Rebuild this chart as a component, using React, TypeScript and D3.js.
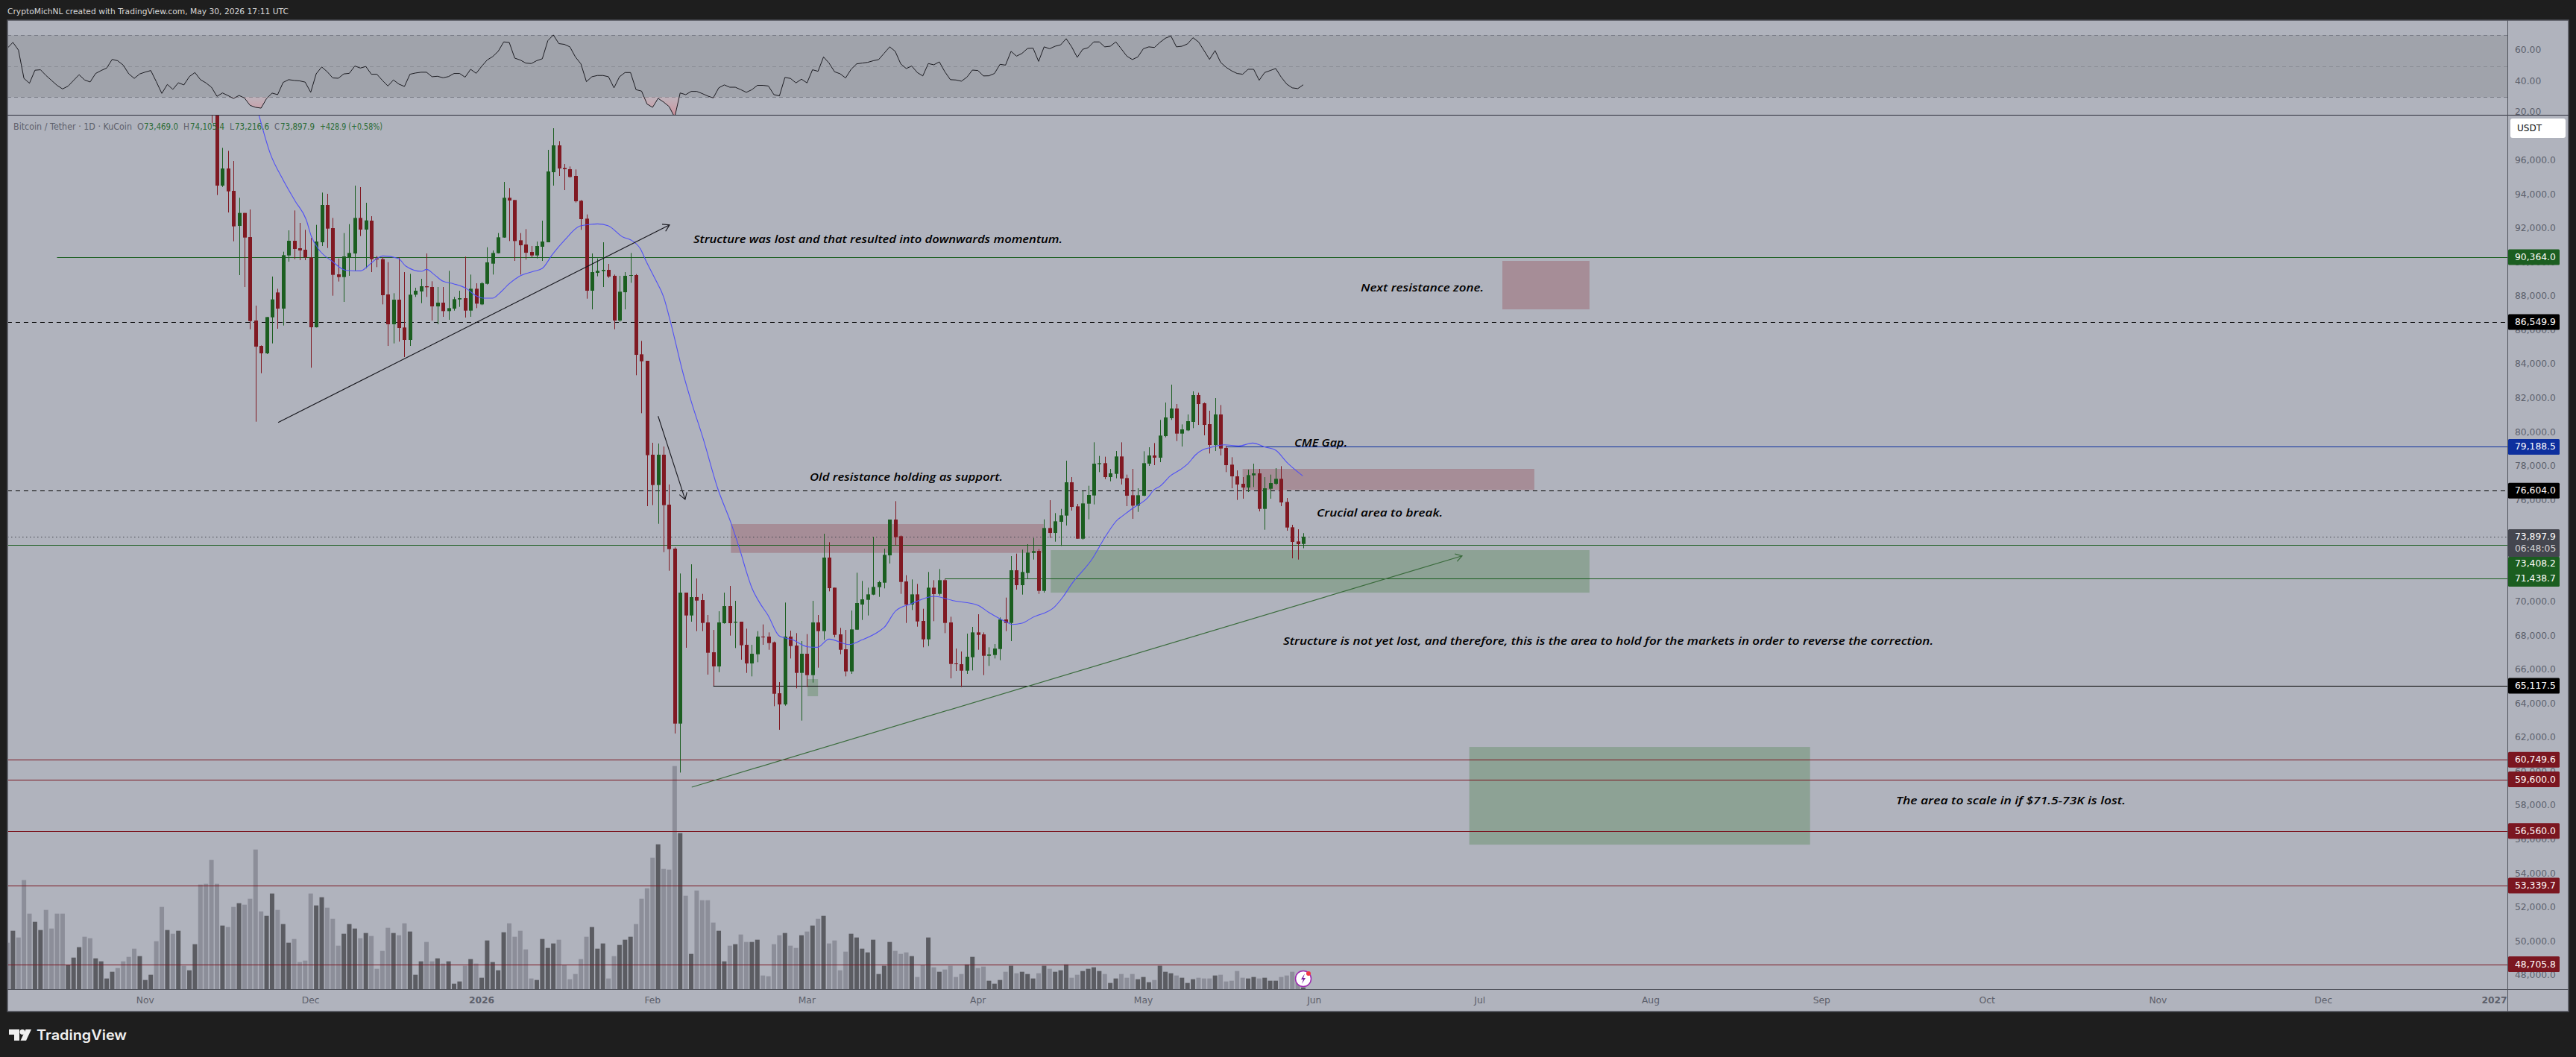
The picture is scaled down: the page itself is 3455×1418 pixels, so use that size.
import React from "react";
import * as d3 from "d3";

// ---- Data ----
const FIRST_VOLUME_DAY = -86; // days relative to 2026-01-01
const FIRST_CANDLE_DAY = -49;

const opens = [
  103000, 99700, 94580, 95591, 94273, 92209, 92971, 91550, 86631, 85138,
  84699, 86822, 88286, 87334, 90467, 91331, 90892, 90804, 90350, 86236,
  91243, 93439, 92077, 89354, 89193, 90365, 90584, 92678, 91990, 92517,
  90291, 90247, 88169, 86412, 87861, 86222, 85490, 88154, 88344, 88652,
  88608, 87466, 87685, 87188, 87334, 87876, 87949, 87217, 88505,
  87583, 88798, 89984, 90599, 91521, 93864, 93732, 91360, 91111, 90672,
  90467, 90980, 91243, 95371, 96953, 95620, 95547, 95152, 93688, 92634,
  88388, 89442, 89545, 89618, 89267, 86631, 88300, 89267, 89311, 84641, 84260,
  78727, 76941, 78727, 75784, 73193, 62886, 70602, 69255, 70338,
  70162, 68845, 67088, 66254, 68801, 69811, 68830, 68889, 67527, 66429,
  66971, 68010, 68010, 67674, 64672, 64014, 68010, 67483, 65873, 67000,
  65741, 68845, 68333, 72666, 70894, 68142, 67264, 65961, 68420, 69899,
  70177, 70484, 70924, 71187, 72798, 74906, 73925, 71260, 69899, 70499,
  68933, 67849, 70894, 70528, 71334, 68845, 66429, 66385, 66005, 66795,
  68259, 68142, 66883, 66927, 67278, 69020, 68816, 71919, 71041, 71758,
  72944, 73061, 70704, 74408, 74115, 74774, 75140, 77102, 75682, 73778,
  75843, 76326, 78170, 78229, 77409, 77600, 78624, 77350, 76340, 75725,
  76311, 78199, 78682, 78551, 79824, 80878, 81449, 79971, 80161, 80659,
  82240, 81757, 80527, 79297, 81098, 79122, 78141, 77453, 77014, 76794,
  77511, 77628, 75535, 76721, 77014, 77306, 75945, 74452, 73617, 73469,
];
const closes = [
  99700, 94581, 95591, 94244, 92180, 92971, 91521, 86602, 85094, 84699,
  86836, 87876, 87334, 90482, 91331, 90848, 90760, 90350, 86236, 91287,
  93439, 92048, 89325, 89193, 90408, 90613, 92678, 91990, 92531, 90247,
  90233, 88125, 86412, 87861, 86192, 85490, 88154, 88388, 88652, 88593,
  87466, 87685, 87188, 87363, 87890, 87949, 87217, 88505, 87627,
  88827, 90059, 90613, 91536, 93864, 93703, 91316, 91067, 90628, 90467,
  91023, 91287, 95415, 96953, 95591, 95547, 95093, 93659, 92605, 88388,
  89486, 89560, 89618, 89223, 86631, 88330, 89267, 89311, 84611, 84231, 78700,
  76941, 78727, 75755, 73164, 62886, 70602, 69255, 70338, 70133,
  68816, 67059, 66254, 68845, 69811, 68801, 68889, 67498, 66429, 67000,
  68010, 67966, 67630, 64643, 64014, 68010, 67454, 65873, 67000, 65741,
  68845, 68333, 72666, 70865, 68113, 67234, 65961, 68435, 69987, 70206,
  70499, 70938, 71217, 72827, 74906, 73866, 71231, 69899, 70499, 68903,
  67849, 70894, 70514, 71334, 68816, 66400, 66400, 66005, 66825, 68259,
  68113, 66883, 66956, 67308, 69020, 68816, 71919, 71041, 71817, 72959,
  73046, 70704, 74408, 74115, 74803, 75155, 77102, 75652, 73778, 75857,
  76355, 78200, 78229, 77409, 77629, 78624, 77321, 76311, 75725, 76340,
  78229, 78682, 78551, 79854, 80922, 81449, 79971, 80220, 80703, 82240,
  81713, 80483, 79297, 81098, 79092, 78112, 77453, 76970, 76794, 77526,
  77628, 75535, 76750, 77057, 77306, 75915, 74437, 73588, 73456, 73897.9,
];
const highs = [
  104500, 100500, 96806, 96630, 96030, 93864, 92970, 93175, 87510, 85167,
  86836, 89223, 88505, 90687, 91946, 93117, 92385, 91975, 91492, 92268,
  94171, 94098, 92678, 90291, 91785, 92312, 94581, 94493, 93571, 92780,
  90438, 90365, 90072, 88242, 90365, 89486, 89384, 88564, 89091, 90584,
  88945, 88608, 88608, 89560, 88022, 88388, 90394, 89340, 88827,
  88900, 90950, 90760, 91785, 94800, 94435, 93732, 91785, 92019, 91023,
  91287, 92517, 96689, 97963, 97201, 95855, 95708, 95533, 93732, 92883,
  90584, 90291, 91243, 89969, 89340, 89267, 89486, 90613, 89369, 85431, 84260,
  79430, 79386, 79210, 76970, 73266, 71729, 70602, 72271, 71436,
  70528, 69284, 68405, 69504, 70602, 70997, 70118, 68889, 68479, 67527,
  68333, 68728, 68259, 67718, 65331, 70016, 68362, 68215, 67747, 68157,
  70118, 69284, 74071, 73573, 70894, 68523, 68405, 69548, 71773, 71290,
  70894, 73896, 71290, 73193, 74906, 75989, 73969, 71626, 71378, 71114,
  69650, 71817, 71334, 71992, 71407, 69182, 67308, 67132, 68186, 68581,
  69328, 68259, 67381, 67571, 69137, 70309, 72754, 72900, 73134, 73456,
  73822, 73164, 74920, 76048, 75286, 75535, 78375, 77409, 75828, 76589,
  76897, 79459, 78654, 78610, 77892, 78946, 79458, 77555, 77892, 76750,
  78931, 79166, 79414, 80776, 81801, 82855, 81713, 80512, 81098, 82460,
  82386, 81801, 81318, 82064, 81654, 79239, 78580, 77804, 77409, 77848,
  78199, 77892, 77409, 77555, 77936, 78053, 76179, 74598, 74334, 74105.4,
];
const lows = [
  98270, 94025, 94500, 92999, 91301, 89311, 88608, 86119, 80673, 83528,
  84655, 85285, 86149, 86339, 90101, 90247, 90189, 90189, 83850, 86222,
  91023, 90906, 88095, 88930, 87729, 89267, 89560, 91609, 89706, 89486,
  89779, 87583, 85138, 85285, 85387, 84480, 85138, 88022, 87656, 88022,
  86631, 86412, 86851, 86675, 87217, 87437, 86807, 86851, 87363,
  87539, 88754, 89340, 90584, 91507, 91316, 90145, 89340, 90218, 90365,
  90291, 90145, 91243, 94581, 95152, 94317, 95049, 93585, 91975, 87920,
  87290, 89237, 88608, 89150, 86119, 86558, 87290, 88857, 83411, 81171, 75696,
  75755, 74657, 72988, 71890, 62300, 60000, 67352, 68889, 68333,
  68333, 65770, 65112, 65917, 68772, 68069, 67337, 66649, 65873, 65668,
  66502, 67527, 67234, 63911, 62520, 63940, 66722, 64965, 63062, 65038,
  65302, 66180, 67820, 70675, 67966, 66971, 65668, 65815, 68405, 68991,
  69255, 70455, 70353, 70851, 72315, 73383, 70528, 68816, 69577, 68596,
  67381, 67454, 68918, 70426, 68215, 65551, 65990, 65038, 65815, 66019,
  67234, 65741, 66283, 66722, 66620, 68333, 67747, 70777, 70485, 71407,
  72549, 70528, 70602, 73822, 73603, 73354, 74554, 75433, 73778, 73720,
  74920, 75799, 77702, 77292, 77160, 77336, 76970, 75696, 74949, 75359,
  76281, 78068, 78112, 78287, 79751, 80776, 79532, 79210, 80117, 80293,
  80483, 79868, 78800, 78946, 78682, 77702, 76750, 76062, 76135, 76530,
  76823, 75388, 74305, 76135, 76940, 75696, 74247, 72622, 72548, 73216.6,
];

const volumes = [
  187, 235, 208, 439, 304, 271, 238, 319, 244, 304,
  304, 99, 127, 169, 211, 205, 124, 112, 43, 70,
  85, 112, 130, 163, 133, 37, 58, 193, 331, 238,
  223, 235, 94, 76, 181, 421, 424, 520, 424, 256,
  250, 331, 346, 340, 364, 562, 313, 295, 385, 319,
  262, 187, 202, 109, 115, 385, 337, 370, 328, 283,
  175, 223, 262, 244, 205, 226, 214, 82, 154, 247,
  226, 217, 265, 232, 58, 112, 190, 112, 124, 103,
  112, 22, 31, 94, 121, 103,
  46, 196, 109, 76, 229, 265, 211, 235, 160, 43,
  37, 202, 166, 184, 199, 97, 40, 61, 121, 211,
  250, 163, 184, 43, 133, 178, 199, 211, 262, 364,
  406, 529, 583, 484, 481, 898, 628, 376, 142, 397,
  358, 358, 268, 235, 112, 175, 181, 220, 190, 190,
  199, 55, 52, 181, 217, 226, 175, 166, 217, 232,
  256, 283, 295, 184, 196, 76, 151, 223, 208, 163,
  148, 199, 61, 94, 190, 154, 142, 148, 133, 49,
  97, 208, 88, 70, 79, 94, 49, 61, 100, 130,
  85, 91, 34, 22, 37, 70, 94, 64, 70, 61,
  43, 64, 94, 82, 70, 76, 100, 46, 58, 73,
  82, 88, 73, 61, 25, 43, 61, 46, 61, 40,
  49, 28, 37, 94, 70, 64, 55, 46, 25, 40,
  46, 43, 43, 55, 58, 31, 34, 73, 46, 43,
  49, 43, 46, 34, 34, 49, 55, 70, 39, 7,
];
const earlyVolumeTone = "LDLLLDDLLLLDDDLLDDDDLLLLDDDLLDLDLDDLL";

const rsi = [
  61.7, 65.4, 60.4, 42.1, 39.0, 47.4, 47.7, 44.0, 40.8, 37.6,
  35.3, 37.1, 40.8, 44.5, 41.1, 39.8, 45.3, 47.2, 48.8, 54.4,
  53.5, 50.7, 45.1, 42.1, 45.0, 46.2, 47.2, 40.0, 32.4, 38.2,
  35.0, 39.3, 37.9, 43.3, 45.9, 41.3, 39.2, 36.4, 30.5, 32.7,
  31.0, 29.1, 31.1, 29.4, 24.7, 23.4, 22.9, 29.1, 32.6, 31.6,
  39.5, 41.3, 40.8, 40.5, 39.7, 33.1, 45.1, 49.5, 46.4, 42.4,
  42.2, 45.0, 45.4, 50.1, 48.8, 49.8, 44.8, 44.8,
  40.8, 37.2, 41.1, 38.4, 36.9, 44.8, 45.6, 46.1, 46.1, 43.2,
  43.5, 42.5, 43.3, 45.3, 45.3, 42.9, 48.0, 45.4,
  49.9, 54.0, 56.2, 59.6, 65.7, 65.4, 55.2, 54.0, 52.0, 51.7,
  53.6, 54.8, 66.5, 70.2, 64.6, 64.1, 62.5, 56.0, 51.5, 40.0,
  43.2, 44.0, 44.0, 43.2, 36.0, 43.2, 45.9, 45.9, 34.8, 33.9,
  25.5, 23.4, 29.2, 26.8, 23.9, 17.0, 32.7, 31.6, 33.7, 33.7,
  32.3, 30.7, 29.5, 36.0, 37.9, 36.4, 36.4, 34.8, 33.1, 34.8,
  37.6, 37.6, 37.2, 31.6, 30.8, 42.7, 42.1, 39.2, 41.6, 39.2,
  47.7, 46.7, 56.0, 52.0, 46.4, 45.1, 42.4, 48.0, 51.5, 52.0,
  52.5, 53.5, 54.3, 58.4, 62.5, 59.6, 51.5, 48.5, 50.1, 45.9,
  43.7, 51.7, 50.9, 52.8, 46.4, 41.3, 41.1, 40.3, 42.9, 47.5,
  47.2, 43.7, 43.8, 45.3, 51.2, 50.7, 59.6, 56.5, 58.3, 61.5,
  61.7, 53.1, 62.5, 61.3, 62.9, 63.8, 67.8, 62.5, 55.7, 60.9,
  62.0, 65.7, 65.7, 62.5, 62.9, 65.7, 61.2, 56.5, 54.3, 56.0,
  61.3, 62.5, 62.1, 65.4, 68.1, 69.5, 62.5, 62.9, 64.4, 68.4,
  65.7, 60.1, 54.4, 60.1, 52.5, 49.3, 47.0, 45.3, 44.8, 48.0,
  48.0, 40.9, 45.9, 47.2, 48.5, 42.9, 38.4, 36.0, 35.5, 38.0,
];

const maDays = [
  -40.4, -38.3, -36.1, -33.8, -31.8, -30.9, -29.5, -27.2, -24.6, -21.9, -20.6, -19, -17.9, -15.1, -13.8,
  -10.9, -10, -8.6, -7, -5.1, -2.7, -1.2, 0.4, 2, 3.1, 5, 7, 9.3, 11, 12.8, 15.1, 17.8, 19.7, 21, 22.9,
  25.7, 27, 28.8, 29.8, 31.4, 33, 34.3, 36.5, 38, 40.1, 42.8, 45.3, 47, 48, 48.9, 50.4, 51.9, 54, 56.4,
  59.1, 60.9, 63, 66.6, 69, 72.1, 73, 75.1, 77.9, 82, 85.7, 89.9, 92, 95.6, 96.2, 98, 99.9, 103.9, 105.5,
  107, 110.7, 113.1, 115.4, 116, 118.1, 120.7, 122, 123, 124.9, 126.7, 128, 129.5, 130.8, 132, 134.7,
  137.3, 139.8, 142.2, 144, 146, 148.9,
];
const maValues = [
  98753, 96440, 94976, 93659, 92561, 91609, 90804, 90145, 89589, 89560, 89852, 90291, 90438, 90291, 89852,
  89530, 89647, 89340, 88945, 88798, 88505, 88125, 87949, 87949, 88198, 88798, 89267, 89516, 89706, 90511, 91389, 92195, 92297, 92326, 92224,
  91536, 91389, 90848, 90145, 89120, 88022, 86485, 83558, 81874, 79752, 76750, 74628, 72944, 71846, 70968, 70016, 69284, 68040, 67820,
  67410, 67381, 67864, 67542, 67820, 68333, 68552, 69533, 69943, 70382, 70118, 69870, 69430, 68801, 68728, 68801, 69137, 69767, 70382,
  71114, 72578, 73896, 74920, 75066, 75579, 76164, 76677, 76867, 77482, 77848, 78170, 78727, 79019, 79136, 79312,
  79239, 79414, 79166, 78990, 78287, 77482,
];

const priceTicks = d3.range(48000, 98000, 2000);
const rsiTicks = [60, 40, 20];
const rsiLevels = [70, 50, 30];
const monthLabels = ["Nov", "Dec", "2026", "Feb", "Mar", "Apr", "May", "Jun", "Jul", "Aug", "Sep", "Oct", "Nov", "Dec", "2027"];
const monthDays = [-61, -31, 0, 31, 59, 90, 120, 151, 181, 212, 243, 273, 304, 334, 365];

const zoneNames = ["next", "old", "cme", "greenBig", "greenSmall", "greenLow"];
const zoneFrom = [185.1, 45.2, 138, 103.2, 59.1, 179.1];
const zoneTo = [200.9, 101.9, 190.9, 200.9, 61, 240.9];
const zoneHigh = [90146, 74643, 77892, 73104, 65507, 61508];
const zoneLow = [87292, 72942, 76649, 70601, 64497, 55754];

const levelPrices = [90364, 86549.9, 79188.5, 76604, 73408.2, 71438.7, 65117.5, 60749.6, 59600, 56560, 53339.7, 48705.8];
const levelStart = [-77.0, -86, 135.0, -86, -86, 84, 42, -86, -86, -86, -86, -86];
const levelKind = ["green", "dash", "blue", "dash", "green", "green", "black", "red", "red", "red", "red", "red"];

const COLORS: Record<string, string> = { green: "#1b5e20", dash: "#000000", blue: "#0d2f9e", black: "#000000", red: "#7b1620" };

// ---- Layout ----
const W = 3455, H = 1418;
const L = 10, R = 3445, T = 27, B = 1357, AX = 3363, RSIB = 154, TIMEY = 1327;
const BG = "#b0b3bd", DARK = "#1e1e1e";
const AXISFONT = "'DejaVu Sans', sans-serif";

const x = d3.scaleLinear().domain([0, 365]).range([646, 646 + 365 * 7.396]);
const y = d3.scaleLinear().domain([96000, 48000]).range([216.7, 216.7 + 48000 * 0.02277]);
const yRsi = d3.scaleLinear().domain([70, 30]).range([47.3, 130.3]);
const yVol = d3.scaleLinear().domain([0, 1000]).range([TIMEY, TIMEY - 1000 / 3]);

const rsiPoints = rsi.map((v, i) => ({ d: FIRST_VOLUME_DAY + i, v }));
const rsiLine = d3.line<{ d: number; v: number }>().x((p) => x(p.d)).y((p) => yRsi(p.v));
const rsiUnder = d3.area<{ d: number; v: number }>()
  .x((p) => x(p.d)).y0(yRsi(30)).y1((p) => yRsi(Math.min(p.v, 30)));
const maLine = d3.line<number>().x((_, i) => x(maDays[i])).y((v) => y(v)).curve(d3.curveMonotoneX);

const crisp = (v: number) => Math.round(v) + 0.5;

function Arrow({ d0, p0, d1, p1, color, width }: { d0: number; p0: number; d1: number; p1: number; color: string; width: number }) {
  const x0 = x(d0), y0 = y(p0), x1 = x(d1), y1 = y(p1);
  const a = Math.atan2(y1 - y0, x1 - x0);
  const len = 10;
  const hx = (s: number) => x1 - len * Math.cos(a + s * 0.55);
  const hy = (s: number) => y1 - len * Math.sin(a + s * 0.55);
  return (
    <path
      d={`M${x0},${y0}L${x1},${y1}M${hx(1)},${hy(1)}L${x1},${y1}L${hx(-1)},${hy(-1)}`}
      fill="none" stroke={color} strokeWidth={width}
    />
  );
}

const pills = [
  { t: "90,364.0", c: "#1b5e20", y: y(90364) },
  { t: "86,549.9", c: "#000000", y: y(86549.9) },
  { t: "79,188.5", c: "#0d2f9e", y: y(79188.5) },
  { t: "76,604.0", c: "#000000", y: y(76604) },
  { t: "65,117.5", c: "#000000", y: y(65117.5) },
  { t: "60,749.6", c: "#7b1620", y: y(60749.6) },
  { t: "59,600.0", c: "#7b1620", y: y(59600) },
  { t: "56,560.0", c: "#7b1620", y: y(56560) },
  { t: "53,339.7", c: "#7b1620", y: y(53339.7) },
  { t: "48,705.8", c: "#7b1620", y: y(48705.8) },
];

const notes = [
  { t: "Structure was lost and that resulted into downwards momentum.", x: 930, y: 320, w: 495 },
  { t: "Next resistance zone.", x: 1825, y: 385, w: 165 },
  { t: "Old resistance holding as support.", x: 1086, y: 639, w: 259 },
  { t: "CME Gap.", x: 1736, y: 593, w: 71 },
  { t: "Crucial area to break.", x: 1766, y: 687, w: 169 },
  { t: "Structure is not yet lost, and therefore, this is the area to hold for the markets in order to reverse the correction.", x: 1721, y: 859, w: 872 },
  { t: "The area to scale in if $71.5-73K is lost.", x: 2543, y: 1073, w: 308 },
];

const legend = [
  { t: "Bitcoin / Tether · 1D · KuCoin", x: 18, c: "#5d606b", w: 159 },
  { t: "O", x: 184, c: "#5d606b", w: 9 },
  { t: "73,469.0", x: 193, c: "#2a6b35", w: 46 },
  { t: "H", x: 246, c: "#5d606b", w: 8 },
  { t: "74,105.4", x: 255, c: "#2a6b35", w: 46 },
  { t: "L", x: 308, c: "#5d606b", w: 6 },
  { t: "73,216.6", x: 315, c: "#2a6b35", w: 46 },
  { t: "C", x: 368, c: "#5d606b", w: 7 },
  { t: "73,897.9", x: 376, c: "#2a6b35", w: 46 },
  { t: "+428.9 (+0.58%)", x: 429, c: "#2a6b35", w: 84 },
];

export default function App() {
  const candles = opens.map((o, i) => ({
    d: FIRST_CANDLE_DAY + i, o, h: highs[i], l: lows[i], c: closes[i], up: closes[i] >= o,
  }));
  const bars = volumes.map((v, i) => {
    const d = FIRST_VOLUME_DAY + i;
    const early = i < earlyVolumeTone.length;
    const dark = early ? earlyVolumeTone[i] === "D" : closes[d - FIRST_CANDLE_DAY] >= opens[d - FIRST_CANDLE_DAY];
    return { d, v, dark };
  });
  return (
    <svg width={W} height={H} viewBox={`0 0 ${W} ${H}`} style={{ position: "absolute", left: 0, top: 0, display: "block" }}>
      <defs>
        <clipPath id="main"><rect x={L + 1} y={RSIB + 1} width={AX - L - 1} height={TIMEY - RSIB - 1} /></clipPath>
        <clipPath id="rsiPane"><rect x={L + 1} y={T} width={AX - L - 1} height={RSIB - T} /></clipPath>
        <clipPath id="rsiAxis"><rect x={AX} y={T} width={R - AX} height={RSIB - T} /></clipPath>
        <linearGradient id="oversold" gradientUnits="userSpaceOnUse" x1="0" y1={yRsi(30)} x2="0" y2={RSIB}>
          <stop offset="0" stopColor="#d9b0b6" stopOpacity={0.35} />
          <stop offset="1" stopColor="#e07a86" stopOpacity={0.6} />
        </linearGradient>
      </defs>
      <rect x={0} y={0} width={W} height={H} fill={DARK} />
      <rect x={L} y={T} width={R - L} height={B - T} fill={BG} stroke="#4f515a" strokeWidth={1.5} />

      <text x={10} y={15} dominantBaseline="central" fontFamily={AXISFONT} fontSize={11} fill="#d9d9d9" textLength={377} lengthAdjust="spacingAndGlyphs">
        CryptoMichNL created with TradingView.com, May 30, 2026 17:11 UTC
      </text>

      {/* RSI pane */}
      <rect x={L + 1} y={yRsi(70)} width={AX - L - 1} height={yRsi(30) - yRsi(70)} fill="#a0a3ab" />
      <g clipPath="url(#rsiPane)">
        {rsiLevels.map((lv, i) => (
          <line key={lv} x1={L} x2={AX} y1={crisp(yRsi(lv))} y2={crisp(yRsi(lv))} stroke={i === 1 ? "#898c95" : "#787b86"} strokeWidth={1} strokeDasharray="5 4" />
        ))}
        <path d={rsiUnder(rsiPoints) || ""} fill="url(#oversold)" />
        <path d={rsiLine(rsiPoints) || ""} fill="none" stroke="#1c1c22" strokeWidth={1} />
      </g>
      <g clipPath="url(#rsiAxis)" fontFamily={AXISFONT} fontSize={12.3} fill="#5d606b">
        {rsiTicks.map((t) => (
          <text key={t} x={3373} y={yRsi(t) - 1} dominantBaseline="central">{t.toFixed(2)}</text>
        ))}
      </g>
      <line x1={L} x2={R} y1={crisp(RSIB)} y2={crisp(RSIB)} stroke="#2d2f3d" strokeWidth={1} />

      {/* Main pane */}
      <g clipPath="url(#main)">
        {bars.map((b) => (
          <rect key={b.d} x={x(b.d) - 3} width={6} y={yVol(b.v)} height={yVol(0) - yVol(b.v)} fill={b.dark ? "#5b5c62" : "#8c8e99"} />
        ))}
        {zoneNames.map((n, i) => (
          <rect key={n} x={x(zoneFrom[i])} width={x(zoneTo[i]) - x(zoneFrom[i])} y={y(zoneHigh[i])} height={y(zoneLow[i]) - y(zoneHigh[i])}
            fill={i < 3 ? "rgba(136,28,41,0.25)" : "rgba(36,112,33,0.25)"} />
        ))}
        <line x1={L} x2={AX} y1={crisp(y(73897.9))} y2={crisp(y(73897.9))} stroke="#44464f" strokeWidth={1} strokeDasharray="1.5 3.5" />
        {levelPrices.map((p, i) => (
          <line key={p} x1={x(levelStart[i])} x2={AX} y1={crisp(y(p))} y2={crisp(y(p))}
            stroke={COLORS[levelKind[i]]} strokeWidth={1} strokeDasharray={levelKind[i] === "dash" ? "6 5" : undefined} />
        ))}
        {candles.map((k) => {
          const col = k.up ? "#1b5e20" : "#801922";
          const top = y(Math.max(k.o, k.c));
          const bot = y(Math.min(k.o, k.c));
          const cx = Math.round(x(k.d));
          return (
            <g key={k.d}>
              <line x1={cx + 0.5} x2={cx + 0.5} y1={y(k.h)} y2={y(k.l)} stroke={col} strokeWidth={1} />
              <rect x={cx - 2} width={5} y={top} height={Math.max(bot - top, 1)} fill={col} />
            </g>
          );
        })}
        <path d={maLine(maValues) || ""} fill="none" stroke="#5050f5" strokeWidth={1.1} />
        <Arrow d0={-36.9} p0={80628} d1={34.07} p1={92267} color="#16161c" width={1.2} />
        <Arrow d0={32} p0={81000} d1={36.9} p1={76090} color="#16161c" width={1.1} />
        <Arrow d0={38.1} p0={59138} d1={177.8} p1={72767} color="#3a6b3c" width={1.2} />
        {notes.map((n) => (
          <text key={n.t} x={n.x} y={n.y} dominantBaseline="central" fontFamily="'Open Sans', sans-serif" fontStyle="italic" fontWeight={600}
            fontSize={14} fill="#000" textLength={n.w} lengthAdjust="spacingAndGlyphs">{n.t}</text>
        ))}
        {legend.map((g) => (
          <text key={g.t} x={g.x} y={170} dominantBaseline="central" fontFamily={AXISFONT} fontSize={11.5} fill={g.c} textLength={g.w} lengthAdjust="spacingAndGlyphs">{g.t}</text>
        ))}
        {/* event marker */}
        <circle cx={x(149)} cy={1313} r={10.5} fill="#fff" stroke="#9c27b0" strokeWidth={1.5} />
        <path d={`M${x(149) + 2},${1306}l-5,8h3l-2,6l5,-8h-3z`} fill="#7b1fa2" />
        <circle cx={x(149) + 7} cy={1306} r={3} fill="#f23645" />
      </g>

      {/* Axes */}
      <line x1={AX + 0.5} x2={AX + 0.5} y1={T} y2={B} stroke="#4f515a" strokeWidth={1} />
      <line x1={L} x2={R} y1={TIMEY + 0.5} y2={TIMEY + 0.5} stroke="#4f515a" strokeWidth={1} />
      <g fontFamily={AXISFONT} fontSize={12.3} fill="#5d606b">
        {priceTicks.map((p) => (
          <text key={p} x={3373} y={y(p) - 1.5} dominantBaseline="central">{d3.format(",.1f")(p)}</text>
        ))}
        {monthLabels.map((m, i) => (
          <text key={i} x={x(monthDays[i])} y={1342} textAnchor="middle" dominantBaseline="central" fontWeight={m.length === 4 ? 700 : 400}>{m}</text>
        ))}
      </g>
      <g fontFamily={AXISFONT} fontSize={12.3} fill="#fff" fontWeight={500}>
        {pills.map((p) => (
          <g key={p.t}>
            <rect x={3364} y={p.y - 10.5} width={69} height={21} rx={1.5} fill={p.c} />
            <text x={3373} y={p.y} dominantBaseline="central">{p.t}</text>
          </g>
        ))}
        <rect x={3364} y={710} width={69} height={37} rx={1.5} fill="#44464f" />
        <text x={3373} y={720} dominantBaseline="central">73,897.9</text>
        <text x={3373} y={736} dominantBaseline="central" fill="#d5d6da">06:48:05</text>
        <rect x={3364} y={747} width={69} height={40} rx={1.5} fill="#1b5e20" />
        <text x={3373} y={756} dominantBaseline="central">73,408.2</text>
        <text x={3373} y={776} dominantBaseline="central">71,438.7</text>
      </g>
      <rect x={3367} y={159} width={74} height={26} rx={3} fill="#fff" />
      <text x={3376} y={172} dominantBaseline="central" fontFamily={AXISFONT} fontSize={12} fill="#111">USDT</text>

      {/* Logo */}
      <g fill="#f0f0f0">
        <path d="M12,1381H26V1396H19V1388H12Z" />
        <circle cx={30} cy={1384.5} r={3.4} />
        <path d="M34.5,1381H42L35,1396H27.5Z" />
        <text x={49} y={1388} dominantBaseline="central" fontFamily="'Inter', sans-serif" fontWeight={600} fontSize={18} textLength={121} lengthAdjust="spacingAndGlyphs">TradingView</text>
      </g>
    </svg>
  );
}
